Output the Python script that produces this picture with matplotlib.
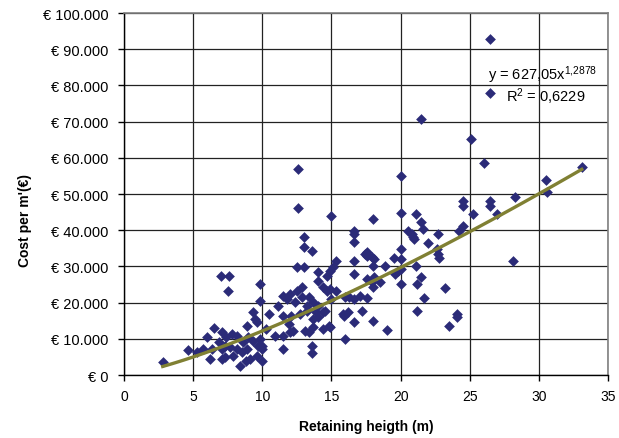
import matplotlib
matplotlib.use("Agg")
import matplotlib.pyplot as plt
import numpy as np

# retaining height (m) and cost per metre (x 1000 euro)
heights = [
    26.5, 26.5, 21.5, 25.1, 26.0, 20.0, 30.5, 30.6, 33.1, 12.6,
    12.6, 24.5, 24.5, 26.5, 26.5, 25.2, 27.0, 28.3, 28.1, 18.0,
    20.0, 21.1, 21.5, 21.6, 20.5, 20.8, 20.9, 21.0, 22.7, 22.0,
    22.6, 22.7, 22.8, 24.2, 24.5, 20.0, 17.4, 17.6, 17.9, 18.1,
    18.0, 17.6, 19.5, 20.0, 18.9, 20.0, 19.8, 19.6, 21.1, 21.5,
    21.2, 20.0, 18.5, 17.6, 17.9, 18.0, 23.2, 21.7, 17.6, 17.1,
    17.2, 21.2, 24.1, 24.1, 23.5, 18.0, 19.0, 18.1,
    15.0, 16.6, 16.6, 16.6, 13.0, 13.0, 13.6, 15.3, 16.6, 12.5,
    13.0, 14.9, 15.1, 14.0, 14.0, 14.7, 16.6, 12.9, 14.4, 14.7,
    14.9, 15.3, 11.5, 12.0, 11.8, 12.5, 12.9, 13.4, 11.1, 12.4,
    13.2, 13.7, 14.0, 15.0, 16.0, 16.3, 16.6, 14.4, 10.5, 9.8,
    9.8, 11.5, 12.1, 12.7, 13.2, 13.7, 14.0, 11.9, 12.2, 11.5,
    10.9, 13.1, 13.4, 13.7, 14.4, 14.8, 14.9, 15.8, 15.9, 16.2,
    16.6, 16.0, 13.6, 13.6, 11.5, 10.0, 9.8, 10.0, 12.0, 13.9,
    14.5,
    2.8, 4.6, 5.3, 6.0, 6.5, 5.7, 6.2, 6.4, 7.1, 7.4,
    7.8, 8.2, 7.1, 7.3, 7.7, 7.1, 7.3, 7.9, 8.4, 8.5,
    8.9, 9.1, 8.6, 9.0, 9.3, 8.9, 9.3, 9.5, 9.6, 9.7,
    10.3, 7.0, 7.6, 7.5, 8.2, 6.9, 10.0, 9.6, 8.8,
]
cost_k = [
    92.8, 77.9, 70.7, 65.2, 58.6, 55.0, 53.9, 50.6, 57.5, 56.9,
    46.1, 48.1, 46.7, 48.1, 46.7, 44.5, 44.5, 49.2, 31.5, 43.1,
    44.8, 44.5, 42.3, 40.3, 39.8, 39.0, 38.1, 37.6, 39.0, 36.5,
    34.8, 33.4, 32.3, 39.8, 41.2, 34.8, 33.4, 32.9, 32.6, 32.0,
    30.1, 34.0, 32.3, 32.0, 30.1, 29.3, 28.7, 27.9, 30.1, 27.1,
    25.1, 25.1, 25.7, 26.5, 25.7, 24.3, 24.0, 21.3, 21.3, 21.8,
    17.7, 17.7, 16.9, 16.0, 13.5, 14.9, 12.4, 27.1,
    43.9, 39.8, 39.0, 36.7, 38.1, 35.4, 34.3, 31.5, 31.5, 29.8,
    29.8, 28.7, 29.8, 28.5, 26.0, 27.3, 27.9, 24.3, 24.3, 23.2,
    23.8, 23.2, 21.8, 22.4, 21.0, 23.2, 21.5, 21.5, 19.1, 20.2,
    19.1, 20.2, 19.1, 21.0, 21.5, 21.5, 21.0, 17.4, 16.9, 20.4,
    25.1, 16.3, 16.3, 16.9, 17.7, 15.5, 16.0, 14.1, 12.2, 10.8,
    10.8, 12.2, 11.9, 13.3, 12.7, 13.5, 13.3, 16.9, 16.3, 17.4,
    14.6, 9.9, 8.0, 6.1, 7.2, 3.9, 9.9, 8.0, 11.9, 17.4,
    17.7,
    3.6, 6.9, 6.4, 10.5, 13.0, 7.2, 4.4, 7.2, 11.9, 10.5,
    11.3, 10.8, 7.2, 8.0, 7.7, 4.4, 5.0, 5.2, 2.5, 6.4,
    7.2, 4.4, 9.1, 10.5, 9.4, 13.5, 17.4, 15.5, 14.6, 8.0,
    12.7, 27.3, 27.3, 23.2, 7.2, 9.1, 7.2, 5.2, 3.9,
]

# power trendline as printed on the chart
fit_a = 627.05
fit_b = 1.2878
fit_label = r"y = 627,05x$^{\mathregular{1{,}2878}}$"
r2_label = r"R$^{\mathregular{2}}$ = 0,6229"

x_ticks = [0, 5, 10, 15, 20, 25, 30, 35]
y_ticks = [0, 10000, 20000, 30000, 40000, 50000, 60000, 70000, 80000, 90000, 100000]
y_tick_labels = ["€ 0", "€ 10.000", "€ 20.000", "€ 30.000", "€ 40.000", "€ 50.000",
                 "€ 60.000", "€ 70.000", "€ 80.000", "€ 90.000", "€ 100.000"]

plt.rcParams["font.family"] = ["Liberation Sans", "DejaVu Sans"]
plt.rcParams["mathtext.fontset"] = "custom"
plt.rcParams["mathtext.rm"] = "Liberation Sans"
plt.rcParams["mathtext.it"] = "Liberation Sans"

fig = plt.figure(figsize=(6.19, 4.39), dpi=100)
ax = fig.add_axes([0.2003, 0.1435, 0.782, 0.8245])

x = np.array(heights)
y = np.array(cost_k) * 1000

ax.scatter(x, y, marker="D", s=30, color="#2b2b78", linewidths=0, zorder=3)

xs = np.linspace(x.min(), x.max(), 100)
ax.plot(xs, fit_a * xs ** fit_b, color="#808033", lw=2.4, zorder=4)

ax.text(26.3, 83000, fit_label, fontsize=10.5, va="center", ha="left", zorder=5)
ax.text(27.6, 77300, r2_label, fontsize=10.5, va="center", ha="left", zorder=5)

ax.set_xlim(0, 35)
ax.set_ylim(0, 100000)
ax.set_xticks(x_ticks)
ax.set_yticks(y_ticks)
ax.set_yticklabels(y_tick_labels)
ax.tick_params(axis="both", direction="out", length=4, width=1, color="black")
ax.tick_params(axis="y", pad=7, labelsize=10.5)
ax.tick_params(axis="x", pad=6, labelsize=10)

ax.grid(True, color="#222222", lw=0.9)
ax.set_axisbelow(True)
for side in ["left", "bottom"]:
    ax.spines[side].set_color("black")
    ax.spines[side].set_linewidth(1)
for side in ["top", "right"]:
    ax.spines[side].set_color("#808080")
    ax.spines[side].set_linewidth(1.2)

ax.set_xlabel("Retaining heigth (m)", fontsize=10, fontweight="bold")
ax.set_ylabel("Cost per m'(€)", fontsize=10, fontweight="bold")
ax.xaxis.set_label_coords(0.5, -0.122)
ax.yaxis.set_label_coords(-0.19, 0.43)

plt.savefig("out.png", dpi=100)
plt.close()
